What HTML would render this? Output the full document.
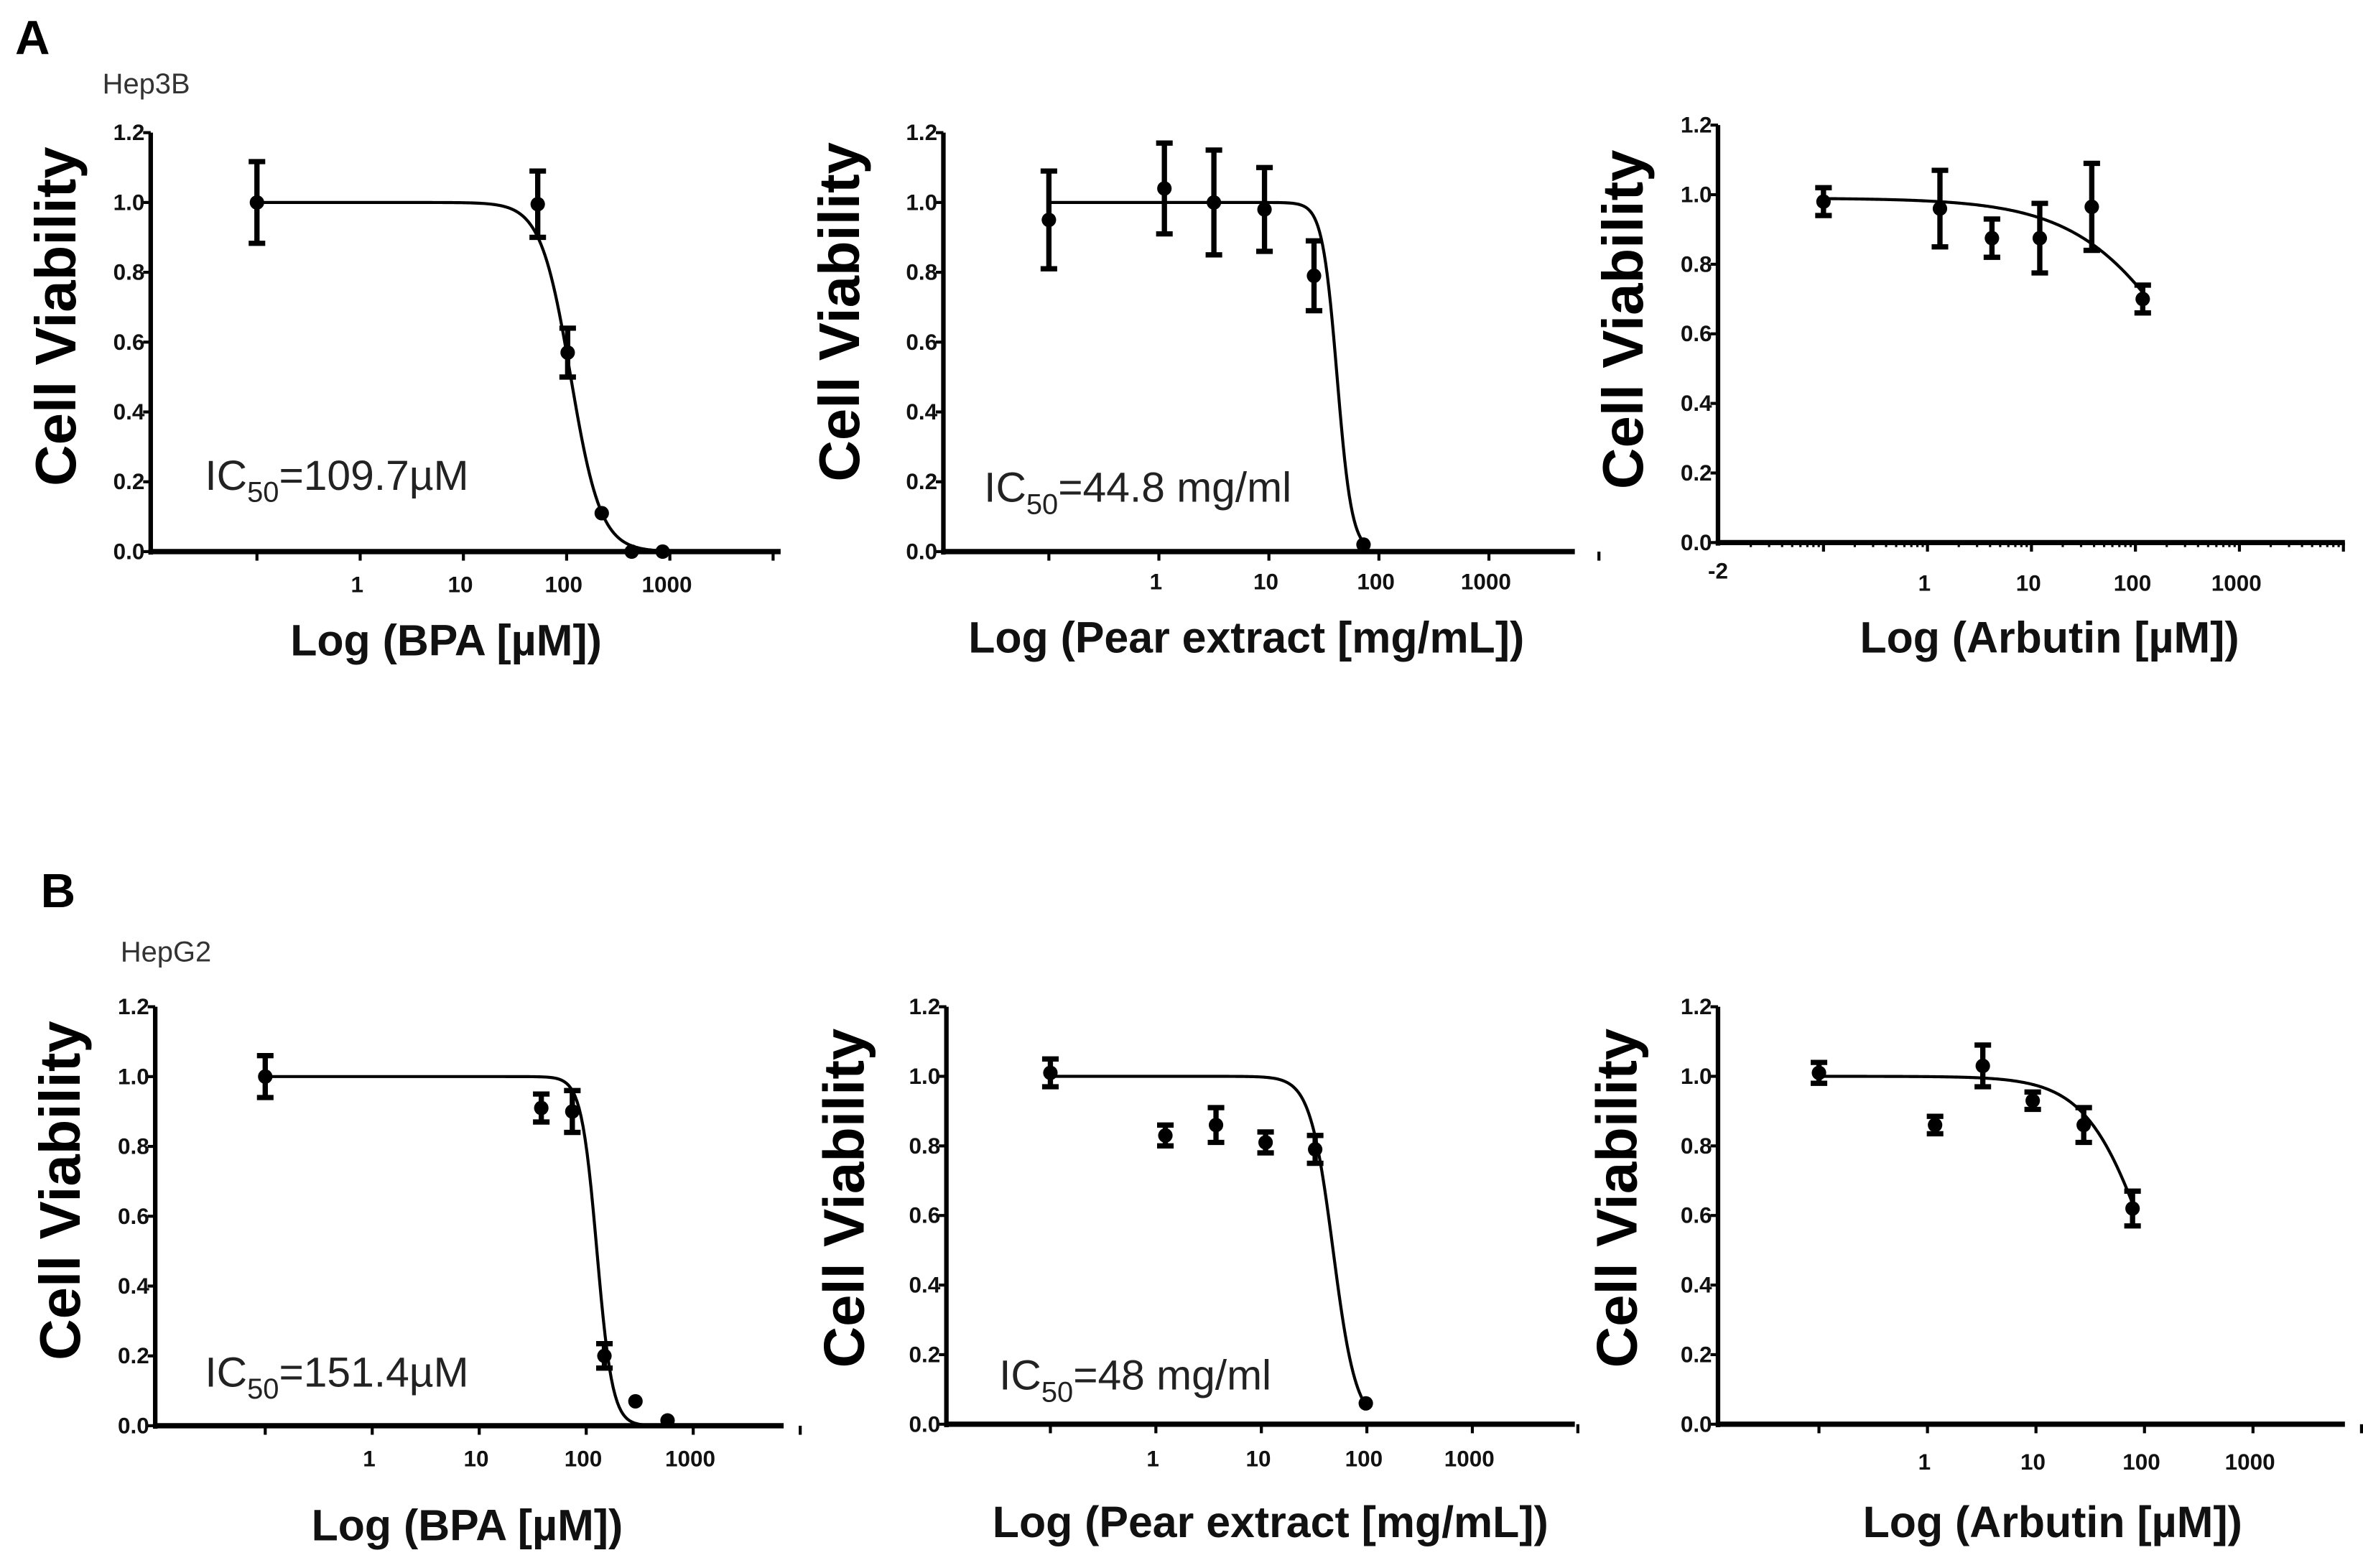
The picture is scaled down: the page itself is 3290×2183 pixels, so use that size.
<!DOCTYPE html>
<html><head><meta charset="utf-8">
<style>
html,body{margin:0;padding:0;background:#fff;}
svg{display:block;}
text{font-family:"Liberation Sans",Arial,sans-serif;}
.tk{font-size:15px;font-weight:bold;fill:#111;}
.yt{font-size:38px;font-weight:bold;fill:#000;}
.xt{font-size:29px;font-weight:bold;fill:#111;}
.ic{font-size:28px;fill:#222;}
</style></head>
<body>
<svg id="fig" width="3290" height="2183" viewBox="0 0 1568 1040.4" xmlns="http://www.w3.org/2000/svg">
<text x="10" y="36" font-size="32" font-weight="bold">A</text>
<text x="68" y="62" font-size="19" fill="#333">Hep3B</text>
<text x="27" y="602" font-size="32" font-weight="bold">B</text>
<text x="80" y="638" font-size="19" fill="#333">HepG2</text>
</svg>
<script>
// ---- data (log10 concentration, viability, error) ----
const yTicks = [0, 0.2, 0.4, 0.6, 0.8, 1.0, 1.2];
const xTickLabels = ["1", "10", "100", "1000"];
const xTickLogs = [0, 1, 2, 3];

const a1X = [-1, 1.72, 2.01, 2.34, 2.63, 2.93];
const a1Y = [1.0, 0.995, 0.57, 0.11, 0.0, 0.0];
const a1E = [0.117, 0.095, 0.07, 0, 0, 0];
const a1Fit = [1.0, 2.04, 3.0]; // top, logIC50, hill

const a2X = [-1, 0.05, 0.5, 0.96, 1.41, 1.86];
const a2Y = [0.95, 1.04, 1.0, 0.98, 0.79, 0.02];
const a2E = [0.14, 0.13, 0.15, 0.12, 0.1, 0];
const a2Fit = [1.0, 1.62, 6.5];

const a3X = [-1, 0.12, 0.62, 1.08, 1.58, 2.07];
const a3Y = [0.98, 0.96, 0.875, 0.875, 0.965, 0.70];
const a3E = [0.04, 0.11, 0.055, 0.10, 0.125, 0.04];
const a3Fit = [0.99, 2.6, 0.8];

const b1X = [-1, 1.58, 1.87, 2.17, 2.46, 2.76];
const b1Y = [1.0, 0.91, 0.90, 0.20, 0.07, 0.015];
const b1E = [0.06, 0.04, 0.06, 0.035, 0, 0];
const b1Fit = [1.0, 2.1, 6.0];

const b2X = [-1, 0.09, 0.57, 1.04, 1.51, 1.99];
const b2Y = [1.01, 0.83, 0.86, 0.81, 0.79, 0.06];
const b2E = [0.04, 0.03, 0.05, 0.03, 0.04, 0];
const b2Fit = [1.0, 1.68, 4.0];

const b3X = [-1, 0.07, 0.51, 0.97, 1.44, 1.89];
const b3Y = [1.01, 0.86, 1.03, 0.93, 0.86, 0.62];
const b3E = [0.03, 0.025, 0.06, 0.025, 0.05, 0.05];
const b3Fit = [1.0, 2.05, 1.5];

const NS = "http://www.w3.org/2000/svg";
const svg = document.getElementById('fig');
function mk(tag, attrs, parent) {
  const e = document.createElementNS(NS, tag);
  for (const k in attrs) e.setAttribute(k, attrs[k]);
  (parent || svg).appendChild(e);
  return e;
}

function panel(id, cfg, xs, ys, es, fit) {
  const g = mk('g', {});
  
  
  const xS = l => cfg.x0 + cfg.dec * l;
  const yS = v => cfg.yb - v * (cfg.yb - cfg.yt) / 1.2;
  const ya = mk('line', {x1: cfg.ax, y1: yS(1.2), x2: cfg.ax, y2: yS(0) + 2, stroke: '#000', 'stroke-width': 3}, g);
  
  
  const xa = mk('line', {x1: cfg.ax - 1.5, y1: yS(0), x2: cfg.axEnd, y2: yS(0), stroke: '#000', 'stroke-width': 3.5}, g);
  
  
  yTicks.forEach(v => {
    mk('line', {x1: cfg.ax - 5, y1: yS(v), x2: cfg.ax, y2: yS(v), stroke: '#000', 'stroke-width': 2}, g);
    const t = mk('text', {x: cfg.ax - 4, y: yS(v) + 5, 'text-anchor': 'end', class: 'tk'}, g);
    t.textContent = v.toFixed(1);
    
    
  });
  for (let l = -1; l <= 4; l++) {
    mk('line', {x1: xS(l), y1: yS(0), x2: xS(l), y2: yS(0) + 6, stroke: '#000', 'stroke-width': 2}, g);
  }
  if (cfg.minor) {
    for (let d = -2; d < 4; d++) for (let m = 2; m < 10; m++) {
      const xx = xS(d + Math.log10(m));
      if (xx < cfg.axEnd) mk('line', {x1: xx, y1: yS(0), x2: xx, y2: yS(0) + 3, stroke: '#000', 'stroke-width': 1.5}, g);
    }
    const m2 = mk('text', {x: cfg.ax, y: yS(0) + 24, 'text-anchor': 'middle', class: 'tk'}, g);
    m2.textContent = '-2';
    
    
  }
  xTickLogs.forEach((l, i) => {
    const t = mk('text', {x: xS(l) - 2, y: yS(0) + cfg.xlOff, 'text-anchor': 'middle', class: 'tk'}, g);
    t.textContent = xTickLabels[i];
    
    
  });
  const yt = mk('text', {x: 0, y: 0, 'text-anchor': 'middle', class: 'yt', transform: `translate(${cfg.ylx},${cfg.yly}) rotate(-90)`}, g);
  yt.textContent = 'Cell Viability';
  
  
  const xt = mk('text', {x: cfg.xlx, y: cfg.xly, 'text-anchor': 'middle', class: 'xt'}, g);
  xt.textContent = cfg.xtitle;
  
  
  if (cfg.ic) {
    const ic = mk('text', {x: cfg.icx, y: cfg.icy, class: 'ic'}, g);
    
    
    ic.appendChild(document.createTextNode('IC'));
    const sub = mk('tspan', {'font-size': 19, dy: 8}, ic);
    sub.textContent = '50';
    const rest = mk('tspan', {dy: -8}, ic);
    rest.textContent = cfg.ic;
  }
  const lo = xs[0], hi = xs[xs.length - 1];
  let d = '';
  for (let i = 0; i <= 200; i++) {
    const l = lo + (hi - lo) * i / 200;
    const v = fit[0] / (1 + Math.pow(10, (l - fit[1]) * fit[2]));
    d += (i ? 'L' : 'M') + xS(l).toFixed(2) + ' ' + yS(v).toFixed(2);
  }
  const c = mk('path', {d: d, fill: 'none', stroke: '#000', 'stroke-width': 2}, g);
  
  
  xs.forEach((l, i) => {
    const px = xS(l), py = yS(ys[i]);
    if (es[i] > 0) {
      const eb = mk('path', {d: `M${px} ${yS(ys[i] + es[i])}V${yS(ys[i] - es[i])}M${px - 5.5} ${yS(ys[i] + es[i])}H${px + 5.5}M${px - 5.5} ${yS(ys[i] - es[i])}H${px + 5.5}`, stroke: '#000', 'stroke-width': 3.5, fill: 'none'}, g);
      
      
    }
    const p = mk('circle', {cx: px, cy: py, r: 4.8, fill: '#000'}, g);
    
    
  });
}

panel('chart-hep3b-bpa', {ax: 100, axEnd: 518, x0: 239, dec: 68.5, yb: 366, yt: 88, xlOff: 27, ylx: 50, yly: 210, xlx: 296, xly: 435, xtitle: 'Log (BPA [µM])', ic: '=109.7µM', icx: 136, icy: 325}, a1X, a1Y, a1E, a1Fit);
panel('chart-hep3b-pear', {ax: 626, axEnd: 1045, x0: 769, dec: 73, yb: 366, yt: 88, xlOff: 25, ylx: 570, yly: 207, xlx: 827, xly: 433, xtitle: 'Log (Pear extract [mg/mL])', ic: '=44.8 mg/ml', icx: 653, icy: 333}, a2X, a2Y, a2E, a2Fit);
panel('chart-hep3b-arbutin', {ax: 1140, axEnd: 1556, x0: 1279, dec: 69, yb: 360, yt: 83, xlOff: 32, ylx: 1090, yly: 212, xlx: 1360, xly: 433, xtitle: 'Log (Arbutin [µM])', minor: true}, a3X, a3Y, a3E, a3Fit);
panel('chart-hepg2-bpa', {ax: 103, axEnd: 520, x0: 247, dec: 71, yb: 946, yt: 668, xlOff: 27, ylx: 53, yly: 790, xlx: 310, xly: 1022, xtitle: 'Log (BPA [µM])', ic: '=151.4µM', icx: 136, icy: 920}, b1X, b1Y, b1E, b1Fit);
panel('chart-hepg2-pear', {ax: 628, axEnd: 1045, x0: 767, dec: 70, yb: 945, yt: 668, xlOff: 28, ylx: 573, yly: 795, xlx: 843, xly: 1020, xtitle: 'Log (Pear extract [mg/mL])', ic: '=48 mg/ml', icx: 663, icy: 922}, b2X, b2Y, b2E, b2Fit);
panel('chart-hepg2-arbutin', {ax: 1140, axEnd: 1556, x0: 1279, dec: 72, yb: 945, yt: 668, xlOff: 30, ylx: 1086, yly: 795, xlx: 1362, xly: 1020, xtitle: 'Log (Arbutin [µM])'}, b3X, b3Y, b3E, b3Fit);
</script>
</body></html>
